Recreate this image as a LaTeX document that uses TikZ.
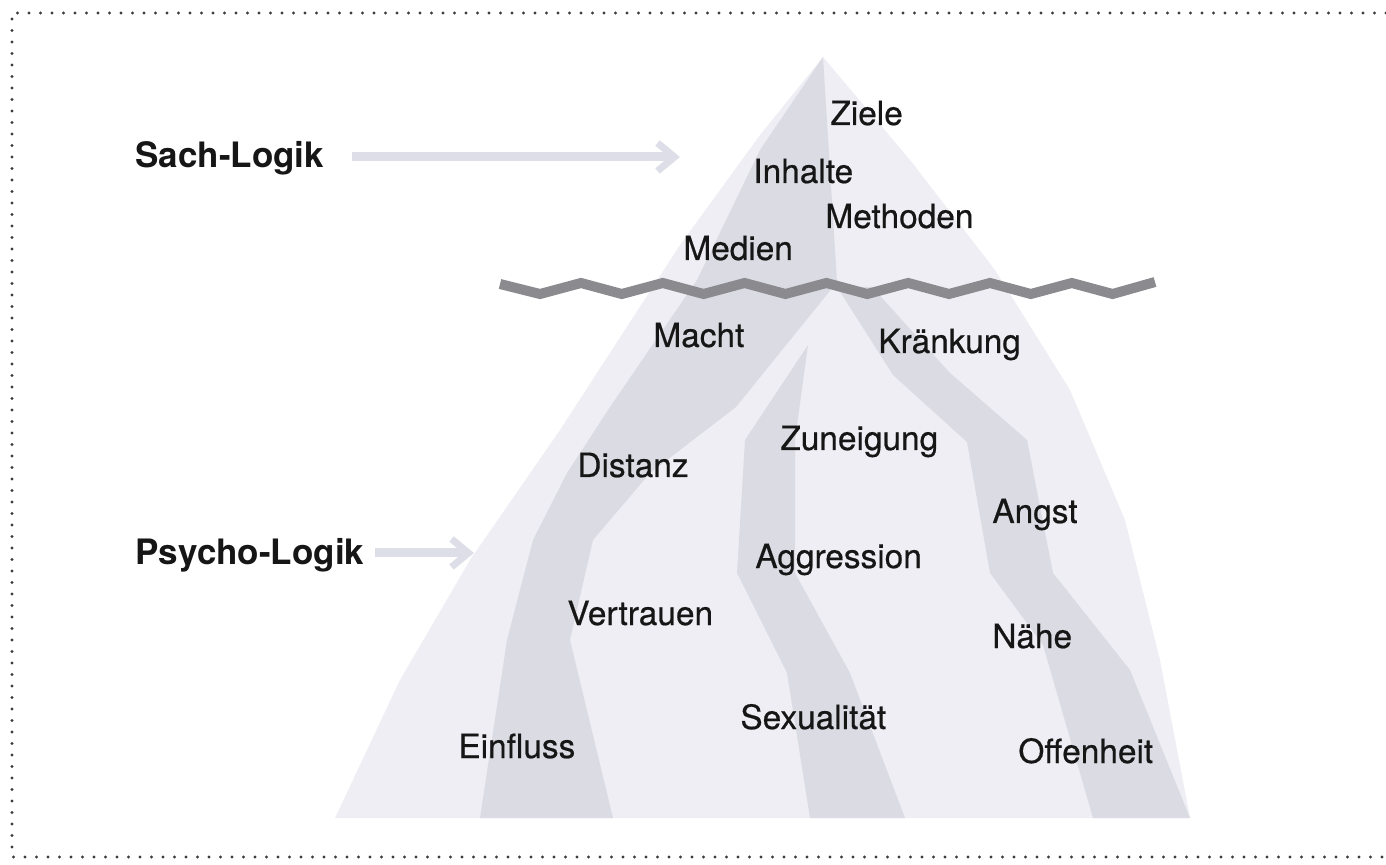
\documentclass[tikz,border=0pt]{standalone}
\usepackage{fontspec}
\setmainfont{TeX Gyre Heros}
\newfontfamily\wordfont[FakeBold=0.5]{TeX Gyre Heros}
\usetikzlibrary{arrows.meta}

\definecolor{berg}{RGB}{238,238,244}
\definecolor{bergshade}{RGB}{219,219,228}
\definecolor{waterline}{RGB}{138,138,143}
\definecolor{pointercol}{RGB}{222,222,232}
\definecolor{dotcol}{RGB}{60,60,60}
\definecolor{inkcol}{RGB}{22,22,22}

\begin{document}
\begin{tikzpicture}[x=0.5pt,y=-0.5pt,
  word/.style={anchor=base west, inner sep=0pt, text=inkcol,
               font=\wordfont\fontsize{16.7}{20}\selectfont},
  side/.style={anchor=base west, inner sep=0pt, text=inkcol,
               font=\fontsize{17.5}{20}\selectfont\bfseries},
  pointer/.style={draw=pointercol, line width=4.5pt,
                  -{Straight Barb[length=8.5pt,width=14pt,line width=3.5pt]}},
  frame/.style={draw=dotcol, line width=1.6pt, line cap=round,
                dash pattern=on 0pt off 5.75pt},
  surface/.style={draw=waterline, line width=5pt, line join=miter}]

\useasboundingbox (0,0) rectangle (1386,865);

% dotted frame, open on the right
\draw[frame] (1386,13) -- (12,13) -- (12,857) -- (1386,857);

% iceberg body
\fill[berg] (823,57) -- (910,160) -- (995,270) -- (1070,390) -- (1125,520)
  -- (1160,660) -- (1190,818) -- (335,818) -- (400,680) -- (470,560)
  -- (560,430) -- (680,245) -- (760,135) -- cycle;

% shaded facets of the iceberg
\fill[bergshade] (823,57) -- (760,150) -- (697,280) -- (610,407) -- (567,473)
  -- (533,540) -- (507,640) -- (480,818) -- (613,818) -- (570,640)
  -- (593,540) -- (650,473) -- (736,407) -- (837,282) -- cycle;
\fill[bergshade] (837,287) -- (872,287) -- (950,373) -- (1027,440) -- (1053,573)
  -- (1130,670) -- (1190,818) -- (1093,818) -- (1043,645) -- (990,573)
  -- (967,442) -- (893,375) -- cycle;
\fill[bergshade] (808,345) -- (795,440) -- (795,573) -- (850,673) -- (905,818)
  -- (810,818) -- (787,673) -- (737,573) -- (745,440) -- cycle;

% water surface
\draw[surface] (500,284) -- (540,294) -- (581,283) -- (621.8,294) -- (662.8,283)
  -- (703.6,294) -- (744.6,283) -- (785.4,294) -- (826.4,283) -- (867.2,294)
  -- (908.2,283) -- (949,294) -- (990,283) -- (1030.8,294) -- (1071.8,283)
  -- (1112.6,294) -- (1155,282);

% side labels and their pointers
\node[side] (sach) at (135,168) {Sach-Logik};
\node[side] (psycho) at (135,565) {Psycho-Logik};
\coordinate (sachtail) at (352,157);
\coordinate (sachtip) at (680,157);
\coordinate (psychotail) at (375,553);
\coordinate (psychotip) at (474,553);
\draw[pointer] (sachtail) -- (sachtip);
\draw[pointer] (psychotail) -- (psychotip);

% above the surface
\node[word] (ziele) at (830,125) {Ziele};
\node[word] (inhalte) at (753,183) {Inhalte};
\node[word] (methoden) at (825,228) {Methoden};
\node[word] (medien) at (683,260) {Medien};

% below the surface
\node[word] (macht) at (653,347) {Macht};
\node[word] (kraenkung) at (878,353) {Kränkung};
\node[word] (zuneigung) at (780,450) {Zuneigung};
\node[word] (distanz) at (577,477) {Distanz};
\node[word] (angst) at (992,523) {Angst};
\node[word] (aggression) at (755,568) {Aggression};
\node[word] (vertrauen) at (567,625) {Vertrauen};
\node[word] (naehe) at (992,648) {Nähe};
\node[word] (sexualitaet) at (740,729) {Sexualität};
\node[word] (einfluss) at (458,758) {Einfluss};
\node[word] (offenheit) at (1018,763) {Offenheit};

\end{tikzpicture}
\end{document}
